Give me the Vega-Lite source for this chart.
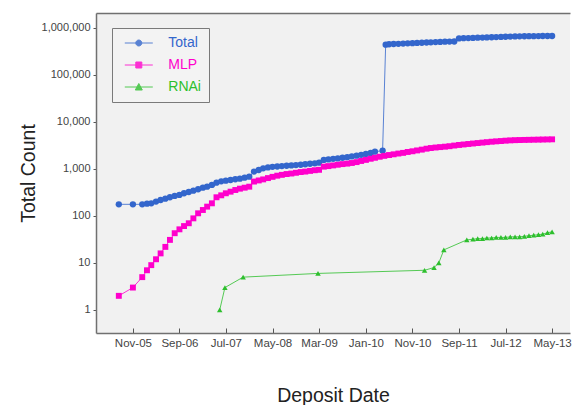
{
  "$schema": "https://vega.github.io/schema/vega-lite/v6.json",
  "width": 474,
  "height": 320,
  "autosize": {"type": "none"},
  "padding": {"left": 96, "top": 13, "right": 2, "bottom": 72},
  "background": "white",
  "config": {
    "font": "Liberation Sans",
    "view": {"fill": "#f1f1f1", "stroke": null}
  },
  "data": {
    "values": [
      {"s": "Total", "d": "2005-08-01", "v": 177},
      {"s": "Total", "d": "2005-11-01", "v": 177},
      {"s": "Total", "d": "2006-01-01", "v": 177},
      {"s": "Total", "d": "2006-02-01", "v": 183},
      {"s": "Total", "d": "2006-03-01", "v": 186},
      {"s": "Total", "d": "2006-04-01", "v": 202},
      {"s": "Total", "d": "2006-05-01", "v": 219},
      {"s": "Total", "d": "2006-06-01", "v": 233},
      {"s": "Total", "d": "2006-07-01", "v": 250},
      {"s": "Total", "d": "2006-08-01", "v": 267},
      {"s": "Total", "d": "2006-09-01", "v": 280},
      {"s": "Total", "d": "2006-10-01", "v": 304},
      {"s": "Total", "d": "2006-11-01", "v": 324},
      {"s": "Total", "d": "2006-12-01", "v": 345},
      {"s": "Total", "d": "2007-01-01", "v": 370},
      {"s": "Total", "d": "2007-02-01", "v": 400},
      {"s": "Total", "d": "2007-03-01", "v": 420},
      {"s": "Total", "d": "2007-04-01", "v": 457},
      {"s": "Total", "d": "2007-05-01", "v": 511},
      {"s": "Total", "d": "2007-06-01", "v": 547},
      {"s": "Total", "d": "2007-07-01", "v": 564},
      {"s": "Total", "d": "2007-08-01", "v": 583},
      {"s": "Total", "d": "2007-09-01", "v": 604},
      {"s": "Total", "d": "2007-10-01", "v": 622},
      {"s": "Total", "d": "2007-11-01", "v": 653},
      {"s": "Total", "d": "2007-12-01", "v": 686},
      {"s": "Total", "d": "2008-01-01", "v": 880},
      {"s": "Total", "d": "2008-02-01", "v": 950},
      {"s": "Total", "d": "2008-03-01", "v": 1030},
      {"s": "Total", "d": "2008-04-01", "v": 1080},
      {"s": "Total", "d": "2008-05-01", "v": 1110},
      {"s": "Total", "d": "2008-06-01", "v": 1130},
      {"s": "Total", "d": "2008-07-01", "v": 1150},
      {"s": "Total", "d": "2008-08-01", "v": 1170},
      {"s": "Total", "d": "2008-09-01", "v": 1190},
      {"s": "Total", "d": "2008-10-01", "v": 1210},
      {"s": "Total", "d": "2008-11-01", "v": 1230},
      {"s": "Total", "d": "2008-12-01", "v": 1260},
      {"s": "Total", "d": "2009-01-01", "v": 1290},
      {"s": "Total", "d": "2009-02-01", "v": 1320},
      {"s": "Total", "d": "2009-03-01", "v": 1360},
      {"s": "Total", "d": "2009-04-01", "v": 1560},
      {"s": "Total", "d": "2009-05-01", "v": 1600},
      {"s": "Total", "d": "2009-06-01", "v": 1640},
      {"s": "Total", "d": "2009-07-01", "v": 1680},
      {"s": "Total", "d": "2009-08-01", "v": 1730},
      {"s": "Total", "d": "2009-09-01", "v": 1780},
      {"s": "Total", "d": "2009-10-01", "v": 1850},
      {"s": "Total", "d": "2009-11-01", "v": 1920},
      {"s": "Total", "d": "2009-12-01", "v": 2000},
      {"s": "Total", "d": "2010-01-01", "v": 2090},
      {"s": "Total", "d": "2010-02-01", "v": 2200},
      {"s": "Total", "d": "2010-03-01", "v": 2330},
      {"s": "Total", "d": "2010-04-20", "v": 2450},
      {"s": "Total", "d": "2010-05-10", "v": 440000},
      {"s": "Total", "d": "2010-06-01", "v": 450000},
      {"s": "Total", "d": "2010-07-01", "v": 455000},
      {"s": "Total", "d": "2010-08-01", "v": 460000},
      {"s": "Total", "d": "2010-09-01", "v": 465000},
      {"s": "Total", "d": "2010-10-01", "v": 470000},
      {"s": "Total", "d": "2010-11-01", "v": 475000},
      {"s": "Total", "d": "2010-12-01", "v": 480000},
      {"s": "Total", "d": "2011-01-01", "v": 485000},
      {"s": "Total", "d": "2011-02-01", "v": 490000},
      {"s": "Total", "d": "2011-03-01", "v": 495000},
      {"s": "Total", "d": "2011-04-01", "v": 500000},
      {"s": "Total", "d": "2011-05-01", "v": 505000},
      {"s": "Total", "d": "2011-06-01", "v": 510000},
      {"s": "Total", "d": "2011-07-01", "v": 512000},
      {"s": "Total", "d": "2011-08-01", "v": 515000},
      {"s": "Total", "d": "2011-09-01", "v": 600000},
      {"s": "Total", "d": "2011-10-01", "v": 605000},
      {"s": "Total", "d": "2011-11-01", "v": 610000},
      {"s": "Total", "d": "2011-12-01", "v": 615000},
      {"s": "Total", "d": "2012-01-01", "v": 620000},
      {"s": "Total", "d": "2012-02-01", "v": 625000},
      {"s": "Total", "d": "2012-03-01", "v": 630000},
      {"s": "Total", "d": "2012-04-01", "v": 635000},
      {"s": "Total", "d": "2012-05-01", "v": 640000},
      {"s": "Total", "d": "2012-06-01", "v": 645000},
      {"s": "Total", "d": "2012-07-01", "v": 650000},
      {"s": "Total", "d": "2012-08-01", "v": 655000},
      {"s": "Total", "d": "2012-09-01", "v": 660000},
      {"s": "Total", "d": "2012-10-01", "v": 663000},
      {"s": "Total", "d": "2012-11-01", "v": 666000},
      {"s": "Total", "d": "2012-12-01", "v": 668000},
      {"s": "Total", "d": "2013-01-01", "v": 670000},
      {"s": "Total", "d": "2013-02-01", "v": 672000},
      {"s": "Total", "d": "2013-03-01", "v": 673000},
      {"s": "Total", "d": "2013-04-01", "v": 674000},
      {"s": "Total", "d": "2013-05-01", "v": 675000},
      {"s": "MLP", "d": "2005-08-01", "v": 2},
      {"s": "MLP", "d": "2005-11-01", "v": 3},
      {"s": "MLP", "d": "2006-01-01", "v": 5},
      {"s": "MLP", "d": "2006-02-01", "v": 7},
      {"s": "MLP", "d": "2006-03-01", "v": 9},
      {"s": "MLP", "d": "2006-04-01", "v": 12},
      {"s": "MLP", "d": "2006-05-01", "v": 16},
      {"s": "MLP", "d": "2006-06-01", "v": 22},
      {"s": "MLP", "d": "2006-07-01", "v": 31},
      {"s": "MLP", "d": "2006-08-01", "v": 43},
      {"s": "MLP", "d": "2006-09-01", "v": 52},
      {"s": "MLP", "d": "2006-10-01", "v": 61},
      {"s": "MLP", "d": "2006-11-01", "v": 70},
      {"s": "MLP", "d": "2006-12-01", "v": 89},
      {"s": "MLP", "d": "2007-01-01", "v": 114},
      {"s": "MLP", "d": "2007-02-01", "v": 134},
      {"s": "MLP", "d": "2007-03-01", "v": 158},
      {"s": "MLP", "d": "2007-04-01", "v": 186},
      {"s": "MLP", "d": "2007-05-01", "v": 250},
      {"s": "MLP", "d": "2007-06-01", "v": 275},
      {"s": "MLP", "d": "2007-07-01", "v": 304},
      {"s": "MLP", "d": "2007-08-01", "v": 329},
      {"s": "MLP", "d": "2007-09-01", "v": 357},
      {"s": "MLP", "d": "2007-10-01", "v": 381},
      {"s": "MLP", "d": "2007-11-01", "v": 400},
      {"s": "MLP", "d": "2007-12-01", "v": 420},
      {"s": "MLP", "d": "2008-01-01", "v": 540},
      {"s": "MLP", "d": "2008-02-01", "v": 570},
      {"s": "MLP", "d": "2008-03-01", "v": 600},
      {"s": "MLP", "d": "2008-04-01", "v": 640},
      {"s": "MLP", "d": "2008-05-01", "v": 680},
      {"s": "MLP", "d": "2008-06-01", "v": 720},
      {"s": "MLP", "d": "2008-07-01", "v": 750},
      {"s": "MLP", "d": "2008-08-01", "v": 780},
      {"s": "MLP", "d": "2008-09-01", "v": 800},
      {"s": "MLP", "d": "2008-10-01", "v": 830},
      {"s": "MLP", "d": "2008-11-01", "v": 860},
      {"s": "MLP", "d": "2008-12-01", "v": 880},
      {"s": "MLP", "d": "2009-01-01", "v": 910},
      {"s": "MLP", "d": "2009-02-01", "v": 940},
      {"s": "MLP", "d": "2009-03-01", "v": 960},
      {"s": "MLP", "d": "2009-04-01", "v": 1120},
      {"s": "MLP", "d": "2009-05-01", "v": 1150},
      {"s": "MLP", "d": "2009-06-01", "v": 1190},
      {"s": "MLP", "d": "2009-07-01", "v": 1230},
      {"s": "MLP", "d": "2009-08-01", "v": 1270},
      {"s": "MLP", "d": "2009-09-01", "v": 1300},
      {"s": "MLP", "d": "2009-10-01", "v": 1340},
      {"s": "MLP", "d": "2009-11-01", "v": 1400},
      {"s": "MLP", "d": "2009-12-01", "v": 1480},
      {"s": "MLP", "d": "2010-01-01", "v": 1560},
      {"s": "MLP", "d": "2010-02-01", "v": 1650},
      {"s": "MLP", "d": "2010-03-01", "v": 1730},
      {"s": "MLP", "d": "2010-04-01", "v": 1820},
      {"s": "MLP", "d": "2010-05-01", "v": 1900},
      {"s": "MLP", "d": "2010-06-01", "v": 1980},
      {"s": "MLP", "d": "2010-07-01", "v": 2050},
      {"s": "MLP", "d": "2010-08-01", "v": 2130},
      {"s": "MLP", "d": "2010-09-01", "v": 2200},
      {"s": "MLP", "d": "2010-10-01", "v": 2300},
      {"s": "MLP", "d": "2010-11-01", "v": 2380},
      {"s": "MLP", "d": "2010-12-01", "v": 2480},
      {"s": "MLP", "d": "2011-01-01", "v": 2580},
      {"s": "MLP", "d": "2011-02-01", "v": 2700},
      {"s": "MLP", "d": "2011-03-01", "v": 2790},
      {"s": "MLP", "d": "2011-04-01", "v": 2860},
      {"s": "MLP", "d": "2011-05-01", "v": 2920},
      {"s": "MLP", "d": "2011-06-01", "v": 2980},
      {"s": "MLP", "d": "2011-07-01", "v": 3050},
      {"s": "MLP", "d": "2011-08-01", "v": 3150},
      {"s": "MLP", "d": "2011-09-01", "v": 3240},
      {"s": "MLP", "d": "2011-10-01", "v": 3320},
      {"s": "MLP", "d": "2011-11-01", "v": 3400},
      {"s": "MLP", "d": "2011-12-01", "v": 3480},
      {"s": "MLP", "d": "2012-01-01", "v": 3560},
      {"s": "MLP", "d": "2012-02-01", "v": 3640},
      {"s": "MLP", "d": "2012-03-01", "v": 3720},
      {"s": "MLP", "d": "2012-04-01", "v": 3800},
      {"s": "MLP", "d": "2012-05-01", "v": 3870},
      {"s": "MLP", "d": "2012-06-01", "v": 3930},
      {"s": "MLP", "d": "2012-07-01", "v": 4000},
      {"s": "MLP", "d": "2012-08-01", "v": 4060},
      {"s": "MLP", "d": "2012-09-01", "v": 4100},
      {"s": "MLP", "d": "2012-10-01", "v": 4130},
      {"s": "MLP", "d": "2012-11-01", "v": 4150},
      {"s": "MLP", "d": "2012-12-01", "v": 4170},
      {"s": "MLP", "d": "2013-01-01", "v": 4190},
      {"s": "MLP", "d": "2013-02-01", "v": 4210},
      {"s": "MLP", "d": "2013-03-01", "v": 4230},
      {"s": "MLP", "d": "2013-04-01", "v": 4250},
      {"s": "MLP", "d": "2013-05-01", "v": 4270},
      {"s": "RNAi", "d": "2007-05-22", "v": 1},
      {"s": "RNAi", "d": "2007-06-25", "v": 3},
      {"s": "RNAi", "d": "2007-10-22", "v": 5},
      {"s": "RNAi", "d": "2009-02-22", "v": 6},
      {"s": "RNAi", "d": "2011-01-19", "v": 7},
      {"s": "RNAi", "d": "2011-03-22", "v": 8},
      {"s": "RNAi", "d": "2011-04-22", "v": 10},
      {"s": "RNAi", "d": "2011-05-25", "v": 19},
      {"s": "RNAi", "d": "2011-10-22", "v": 31},
      {"s": "RNAi", "d": "2011-12-01", "v": 32},
      {"s": "RNAi", "d": "2012-01-01", "v": 33},
      {"s": "RNAi", "d": "2012-02-01", "v": 33},
      {"s": "RNAi", "d": "2012-03-01", "v": 34},
      {"s": "RNAi", "d": "2012-04-01", "v": 34},
      {"s": "RNAi", "d": "2012-05-01", "v": 35},
      {"s": "RNAi", "d": "2012-06-01", "v": 35},
      {"s": "RNAi", "d": "2012-07-01", "v": 35},
      {"s": "RNAi", "d": "2012-08-01", "v": 36},
      {"s": "RNAi", "d": "2012-09-01", "v": 36},
      {"s": "RNAi", "d": "2012-10-01", "v": 36},
      {"s": "RNAi", "d": "2012-11-01", "v": 37},
      {"s": "RNAi", "d": "2012-12-01", "v": 38},
      {"s": "RNAi", "d": "2013-01-01", "v": 39},
      {"s": "RNAi", "d": "2013-02-01", "v": 40},
      {"s": "RNAi", "d": "2013-03-01", "v": 41},
      {"s": "RNAi", "d": "2013-04-01", "v": 44},
      {"s": "RNAi", "d": "2013-05-01", "v": 46}
    ]
  },
  "layer": [
    {
      "mark": {"type": "line", "strokeWidth": 1, "opacity": 0.8},
      "encoding": {
        "x": {
          "field": "d", "type": "temporal",
          "scale": {"type": "utc", "domain": [{"year": 2005, "month": 3, "date": 5, "utc": true}, {"year": 2013, "month": 8, "date": 26, "utc": true}]},
          "axis": {
            "orient": "bottom",
            "values": [
              {"year": 2005, "month": 11, "date": 1, "utc": true},
              {"year": 2006, "month": 9, "date": 1, "utc": true},
              {"year": 2007, "month": 7, "date": 1, "utc": true},
              {"year": 2008, "month": 5, "date": 1, "utc": true},
              {"year": 2009, "month": 3, "date": 1, "utc": true},
              {"year": 2010, "month": 1, "date": 1, "utc": true},
              {"year": 2010, "month": 11, "date": 1, "utc": true},
              {"year": 2011, "month": 9, "date": 1, "utc": true},
              {"year": 2012, "month": 7, "date": 1, "utc": true},
              {"year": 2013, "month": 5, "date": 1, "utc": true}
            ],
            "format": "%b-%y",
            "grid": false,
            "domainColor": "#707070",
            "domainWidth": 1.5,
            "tickColor": "#555555",
            "tickSize": -5,
            "labelPadding": 9,
            "labelFontSize": 11.5,
            "labelColor": "#444444",
            "labelFlush": false,
            "labelOverlap": false,
            "title": "Deposit Date",
            "titleFontSize": 19.5,
            "titleFontWeight": "normal",
            "titleColor": "#222222",
            "titleY": 62,
            "titleBaseline": "middle"
          }
        },
        "y": {
          "field": "v", "type": "quantitative",
          "scale": {"type": "log", "domain": [0.324, 2080000], "nice": false},
          "axis": {
            "orient": "left",
            "values": [1, 10, 100, 1000, 10000, 100000, 1000000],
            "format": ",",
            "grid": false,
            "domainColor": "#707070",
            "domainWidth": 1.5,
            "tickColor": "#555555",
            "tickSize": 3,
            "labelPadding": 3,
            "labelFontSize": 11,
            "labelColor": "#444444",
            "title": "Total Count",
            "titleFontSize": 19.5,
            "titleFontWeight": "normal",
            "titleColor": "#222222",
            "titleAngle": -90,
            "titleX": -68,
            "titleAlign": "center",
            "titleBaseline": "middle"
          }
        },
        "color": {
          "field": "s", "type": "nominal",
          "scale": {"domain": ["Total", "MLP", "RNAi"], "range": ["#3366cc", "#ff00cc", "#2dbf2d"]},
          "legend": {
            "orient": "none",
            "legendX": 16,
            "legendY": 15,
            "title": null,
            "direction": "vertical",
            "symbolType": {"expr": "datum.value === 'Total' ? 'M-14,0H14M3,0A3,3,0,1,1,-3,0A3,3,0,1,1,3,0Z' : datum.value === 'MLP' ? 'M-14,0H14M-3,-3H3V3H-3Z' : 'M-14,0H14M0,-3.5L3.5,3L-3.5,3Z'"},
            "symbolSize": 4,
            "symbolStrokeWidth": 1,
            "symbolOffset": 11.8,
            "labelOffset": 22.5,
            "labelFontSize": 14,
            "labelFont": "Liberation Sans",
            "labelColor": {"expr": "scale('color', datum.value)"},
            "padding": 8,
            "rowPadding": 8,
            "strokeColor": "#7a7a7a",
            "fillColor": "#f3f3f3",
            "labelExpr": "datum.label + '\u00a0\u00a0\u00a0\u00a0\u00a0\u00a0'",
            "encode": {
              "symbols": {
                "size": {"value": 4},
                "strokeWidth": {"value": 1},
                "opacity": {"value": 1}
              }
            }
          }
        }
      }
    },
    {
      "mark": {"type": "point", "filled": true, "opacity": 1},
      "encoding": {
        "x": {
          "field": "d", "type": "temporal",
          "axis": {"orient": "top", "labels": false, "ticks": false, "title": null, "grid": false, "domainColor": "#707070", "domainWidth": 1.5}
        },
        "y": {"field": "v", "type": "quantitative"},
        "color": {"field": "s", "type": "nominal"},
        "shape": {"field": "s", "type": "nominal", "scale": {"domain": ["MLP", "Total", "RNAi"], "range": ["square", "circle", "triangle-up"]}, "legend": null},
        "size": {"field": "s", "type": "nominal", "scale": {"domain": ["RNAi", "MLP", "Total"], "range": [30, 40, 30]}, "legend": null}
      }
    }
  ]
}
